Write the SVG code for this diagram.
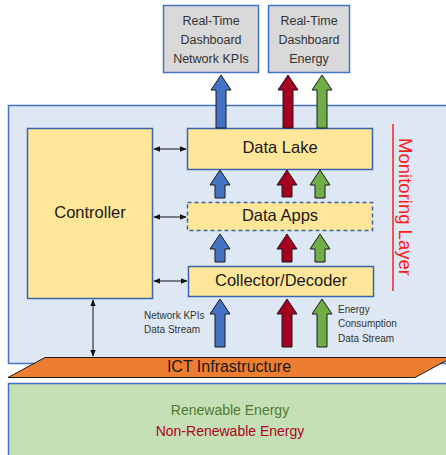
<svg xmlns="http://www.w3.org/2000/svg" width="446" height="455" viewBox="0 0 446 455">
  <style>
    text { font-family: "Liberation Sans", "Noto Sans", sans-serif; fill: #1a1a1a; }
    .dash { fill: #d9d9d9; stroke: #4472c4; stroke-width: 1.5; }
    .box { fill: #ffe699; stroke: #3b64ad; stroke-width: 1.5; }
    .lbl { font-size: 16.5px; text-anchor: middle; dominant-baseline: middle; }
    .dlbl { font-size: 12.5px; text-anchor: middle; fill: #333; }
    .small { font-size: 10px; fill: #333; }
    .blue { fill: #4472c4; stroke: #1a1a1a; stroke-width: 1; }
    .red { fill: #a50021; stroke: #1a1a1a; stroke-width: 1; }
    .green { fill: #70ad47; stroke: #1a1a1a; stroke-width: 1; }
    .link { stroke: #111; stroke-width: 1; fill: none; marker-start: url(#tip); marker-end: url(#tip); }
  </style>
  <defs>
    <marker id="tip" viewBox="0 0 10 10" refX="9" refY="5" markerWidth="7" markerHeight="7" orient="auto-start-reverse">
      <path d="M0,1 L10,5 L0,9 z" fill="#111"/>
    </marker>
  </defs>

  <!-- monitoring layer panel -->
  <g id="monitoring-layer">
    <rect x="8.5" y="105.5" width="445" height="258" fill="#dee8f5" stroke="#4472c4" stroke-width="1.5"/>
    <line x1="393" y1="124" x2="393" y2="291" stroke="#ff0000" stroke-width="1.3"/>
    <text transform="translate(404,207) rotate(90)" font-size="18.5" text-anchor="middle" dominant-baseline="middle" style="fill:#ff1a1a">Monitoring Layer</text>
  </g>

  <!-- energy sources panel -->
  <g id="energy">
    <rect x="8.5" y="383.5" width="445" height="80" fill="#c5e0b4" stroke="#4472c4" stroke-width="1.5"/>
    <text x="230" y="415" font-size="14" text-anchor="middle" style="fill:#4e7a35">Renewable Energy</text>
    <text x="230" y="436" font-size="14" text-anchor="middle" style="fill:#b00024">Non-Renewable Energy</text>
  </g>

  <!-- dashboards -->
  <g id="dashboard-kpi">
    <rect class="dash" x="163.5" y="5.5" width="95" height="67"/>
    <text class="dlbl" x="211" y="25">Real-Time</text>
    <text class="dlbl" x="211" y="44">Dashboard</text>
    <text class="dlbl" x="211" y="63">Network KPIs</text>
  </g>
  <g id="dashboard-energy">
    <rect class="dash" x="268.5" y="5.5" width="81" height="67"/>
    <text class="dlbl" x="309" y="25">Real-Time</text>
    <text class="dlbl" x="309" y="44">Dashboard</text>
    <text class="dlbl" x="309" y="63">Energy</text>
  </g>

  <!-- processing blocks -->
  <g id="controller">
    <rect class="box" x="27.5" y="128.5" width="125" height="170"/>
    <text class="lbl" x="90" y="214">Controller</text>
  </g>
  <g id="data-lake">
    <rect class="box" x="187.5" y="128.5" width="185" height="41"/>
    <text class="lbl" x="280" y="149">Data Lake</text>
  </g>
  <g id="data-apps">
    <rect class="box" x="187.5" y="202.5" width="185" height="28" stroke-dasharray="4,3"/>
    <text class="lbl" x="280" y="217">Data Apps</text>
  </g>
  <g id="collector">
    <rect class="box" x="188.5" y="266.5" width="185" height="30"/>
    <text class="lbl" x="281" y="282">Collector/Decoder</text>
  </g>

  <!-- ICT infrastructure slab -->
  <g id="ict">
    <polygon points="45,357.5 452,357.5 415,377.5 8,377.5" fill="#ed7d31" stroke="#1a1a1a" stroke-width="1"/>
    <text x="229" y="368" font-size="16" text-anchor="middle" dominant-baseline="middle">ICT Infrastructure</text>
  </g>

  <!-- stream labels -->
  <g id="stream-labels">
    <text class="small" x="144" y="319">Network KPIs</text>
    <text class="small" x="144" y="333">Data Stream</text>
    <text class="small" x="338" y="313">Energy</text>
    <text class="small" x="338" y="327">Consumption</text>
    <text class="small" x="338" y="342">Data Stream</text>
  </g>

  <g id="connectors">
    <!-- data flow block arrows -->
    <path class="blue" d="M216,128 V90 H211 L221,75 L231,90 H226 V128 Z"/>
    <path class="red" d="M283,128 V90 H278 L288,75 L298,90 H293 V128 Z"/>
    <path class="green" d="M317,128 V90 H312 L322,75 L332,90 H327 V128 Z"/>

    <path class="blue" d="M215,198 V185 H210 L220,170 L230,185 H225 V198 Z"/>
    <path class="red" d="M282,197 V185 H277 L287,170 L297,185 H292 V197 Z"/>
    <path class="green" d="M315,198 V185 H310 L320,170 L330,185 H325 V198 Z"/>

    <path class="blue" d="M215,262 V249 H210 L220,234 L230,249 H225 V262 Z"/>
    <path class="red" d="M282,262 V249 H277 L287,234 L297,249 H292 V262 Z"/>
    <path class="green" d="M315,262 V249 H310 L320,234 L330,249 H325 V262 Z"/>

    <path class="blue" d="M215,347 V314 H210 L220,299 L230,314 H225 V347 Z"/>
    <path class="red" d="M282,347 V314 H277 L287,299 L297,314 H292 V347 Z"/>
    <path class="green" d="M317,347 V314 H312 L322,299 L332,314 H327 V347 Z"/>

    <!-- control links -->
    <line class="link" x1="154" y1="149" x2="186" y2="149"/>
    <line class="link" x1="154" y1="217" x2="186" y2="217"/>
    <line class="link" x1="154" y1="281" x2="187" y2="281"/>
    <line class="link" x1="93" y1="300" x2="93" y2="356"/>
  </g>
</svg>
